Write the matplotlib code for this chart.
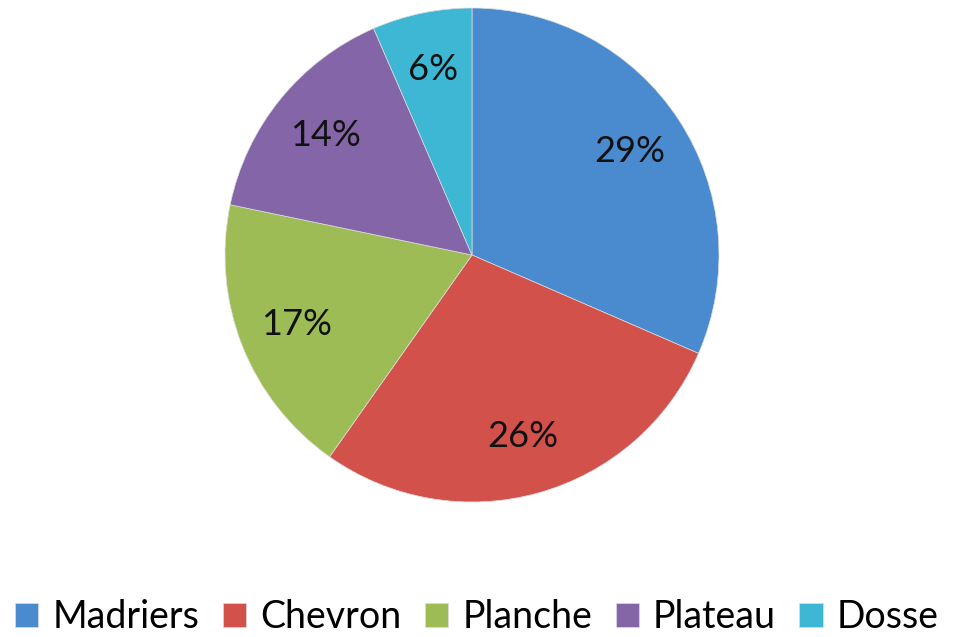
import matplotlib as mpl
mpl.use('Agg')
import matplotlib.pyplot as plt

# data
categories = ['Madriers', 'Chevron', 'Planche', 'Plateau', 'Dosse']
values = [29, 26, 17, 14, 6]
colors = ['#4a8bcf', '#d2514a', '#9dbc55', '#8465a8', '#3db7d4']

plt.rcParams['font.family'] = ['Lato', 'DejaVu Sans']

fig = plt.figure(figsize=(9.54, 6.37), dpi=100)
# pie centre at (472, 255) px, radius ~247 px
ax = fig.add_axes([(472 - 247) / 954, (637 - 255 - 247) / 637, 494 / 954, 494 / 637])

wedges, texts = ax.pie(values, colors=colors, startangle=90, counterclock=False,
                       labels=[str(v) + '%' for v in values], labeldistance=0.765,
                       wedgeprops=dict(linewidth=0.5, edgecolor='#dddddd'),
                       textprops=dict(fontsize=26, color='#111111'))
for t in texts:
    t.set_horizontalalignment('center')
    t.set_verticalalignment('center')
ax.set_xlim(-1, 1)
ax.set_ylim(-1, 1)
ax.set_aspect('equal')

fig.legend(wedges, categories, loc='center', bbox_to_anchor=(0.5, 20 / 637), ncol=5,
           frameon=False, fontsize=27, handlelength=0.62, handleheight=0.62,
           handletextpad=0.38, columnspacing=0.62, borderaxespad=0)

plt.savefig('out.png', dpi=100)
